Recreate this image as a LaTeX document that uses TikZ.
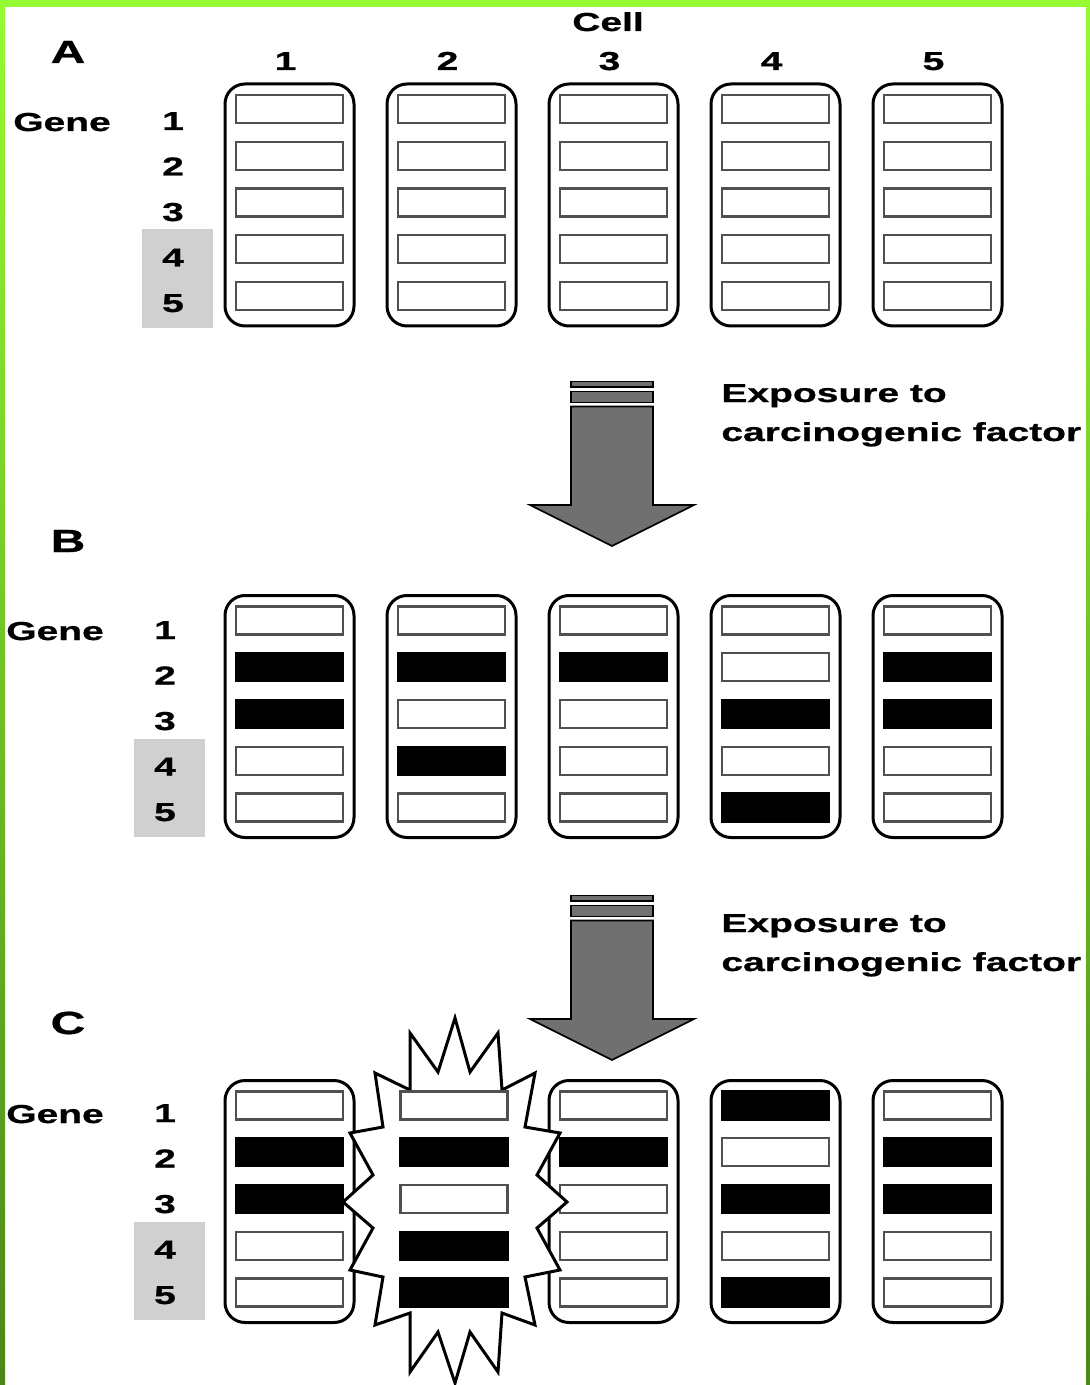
\documentclass[tikz,border=0pt]{standalone}
\usepackage{fontspec}
\setmainfont{Liberation Sans}[FakeStretch=1.5,BoldFeatures={FakeBold=0.8}]

\definecolor{framegreen}{RGB}{150,250,50}
\definecolor{framegreendark}{RGB}{75,135,25}
\definecolor{arrowgray}{RGB}{112,112,112}
\definecolor{markgray}{RGB}{208,208,208}
\definecolor{boxline}{RGB}{80,80,80}

\tikzset{
  lbl/.style={inner sep=0pt,font=\bfseries\fontsize{13}{15}\selectfont},
  lettr/.style={inner sep=0pt,font=\bfseries\fontsize{16}{18}\selectfont},
  cellframe/.style={draw=black,line width=1.5pt,rounded corners=10pt,fill=white,
    minimum width=64.5pt,minimum height=121pt,inner sep=0pt},
  genebox/.style={draw=boxline,line width=1.1pt,fill=white,
    minimum width=53.5pt,minimum height=14pt,inner sep=0pt},
  hitbox/.style={genebox,draw=black,fill=black},
  markbox/.style={fill=markgray,minimum width=35.5pt,minimum height=49.25pt,inner sep=0pt},
  carcarrow/.style={fill=arrowgray,draw=black,line width=0.8pt}
}

\begin{document}
\begin{tikzpicture}[x=0.5pt,y=-0.5pt]
    \useasboundingbox (0,0) rectangle (1090,1385);

    % Green page edge
    \fill[framegreen] (0,0) rectangle (1090,7);
    \shade[top color=framegreen,bottom color=framegreendark] (0,0) rectangle (5,1385);
    \shade[top color=framegreen,bottom color=framegreendark] (1086,0) rectangle (1090,1385);

    % Column heads
    \node[lbl,anchor=base] (cell) at (608,31) {Cell};
    \foreach \c in {1,...,5}
        \node[lbl,anchor=base] (colnum\c) at (285.5+162*\c-162,70) {\c};

    % Panel letters
    \node[lettr,anchor=base] (panelA) at (68,63) {A};
    \node[lettr,anchor=base] (panelB) at (68,552) {B};
    \node[lettr,anchor=base] (panelC) at (68,1034) {C};

    % Gene labels, genes 4 and 5 shaded
    \foreach \p/\gx/\nx/\ny in {A/62/173/221, B/55/165/730, C/55/165/1213} {
        \node[markbox] (mark\p) at (\nx+4.5,\ny+57.75) {};
        \node[lbl,anchor=base] (gene\p) at (\gx,\ny-90) {Gene};
        \foreach \r in {1,...,5}
            \node[lbl,anchor=base] (num\p\r) at (\nx,\ny+45.5*\r-136.5) {\r};
    }

    % Cells with their five genes
    \foreach \p/\fy/\cols in {A/205/{1,2,3,4,5}, B/716.5/{1,2,3,4,5}, C/1201.5/{1,3,4,5}} {
        \foreach \c in \cols {
            \node[cellframe] (cell\p\c) at (289.5+162*\c-162,\fy) {};
            \foreach \r in {1,...,5}
                \node[genebox] (box\p\c\r) at (289.5+162*\c-162,\fy+46.75*\r-142.75) {};
        }
    }

    % Mutated genes
    \foreach \p/\c/\r in {B/1/2, B/1/3, B/2/2, B/2/4, B/3/2, B/4/3, B/4/5, B/5/2, B/5/3,
                          C/1/2, C/1/3, C/3/2, C/4/1, C/4/3, C/4/5, C/5/2, C/5/3}
        \node[hitbox] (hit\p\c\r) at (box\p\c\r) {};

    % Transformed cell
    \draw[line width=1.5pt,fill=white]
        (455,1018) -- (470,1072) -- (498,1033) -- (502,1090) -- (535,1073) -- (525,1127)
        -- (560,1133) -- (537,1175) -- (567,1202) -- (537,1228) -- (560,1270) -- (525,1277)
        -- (535,1325) -- (502,1313) -- (498,1372) -- (470,1332) -- (455,1383) -- (438,1332)
        -- (410,1372) -- (410,1313) -- (375,1325) -- (383,1277) -- (350,1270) -- (373,1228)
        -- (343,1202) -- (373,1175) -- (350,1133) -- (383,1127) -- (375,1073) -- (410,1090)
        -- (410,1033) -- (438,1072) -- cycle;
    \foreach \r/\s in {1/genebox, 2/hitbox, 3/genebox, 4/hitbox, 5/hitbox}
        \node[\s] (boxC2\r) at (454,1201.5+46.75*\r-142.75) {};

    % Exposure arrows
    \foreach \dy in {0,514} {
        \begin{scope}[shift={(0,\dy)}]
            \filldraw[carcarrow] (571,381.5) rectangle (653,387);
            \filldraw[carcarrow] (571,391.5) rectangle (653,402.5);
            \filldraw[carcarrow] (571,406.5) -- (571,505) -- (530,505) -- (612,546)
                -- (694,505) -- (653,505) -- (653,406.5) -- cycle;
        \end{scope}
    }
    \node[lbl,anchor=base west] (expose1) at (721,402) {Exposure to};
    \node[lbl,anchor=base west] (factor1) at (721,441) {carcinogenic factor};
    \node[lbl,anchor=base west] (expose2) at (721,932) {Exposure to};
    \node[lbl,anchor=base west] (factor2) at (721,971) {carcinogenic factor};
\end{tikzpicture}
\end{document}
